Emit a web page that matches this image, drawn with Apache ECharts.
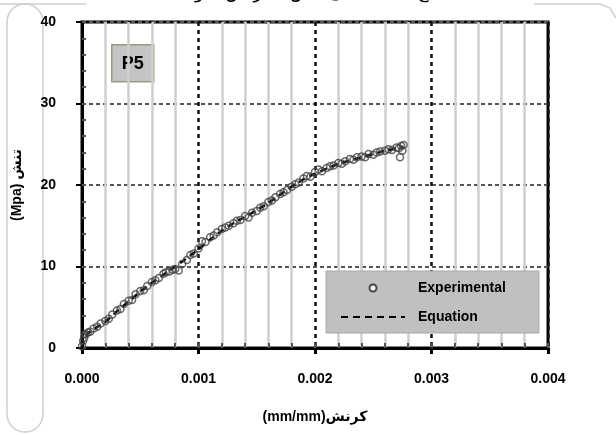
<!DOCTYPE html>
<html>
<head>
<meta charset="utf-8">
<script src="https://cdn.jsdelivr.net/npm/echarts@6/dist/echarts.min.js"></script>
<style>
  html, body { margin: 0; padding: 0; background: #fff; }
  #chart { width: 616px; height: 435px; }
</style>
</head>
<body>
<div id="chart"></div>
<script>
// experimental strain / stress readings
const expStrain = [0, 0.00001, 0.00002, 0.00003, 0.00005, 0.00007, 0.0001, 0.00013, 0.00016, 0.0002,
  0.00023, 0.00026, 0.0003, 0.00033, 0.00036, 0.0004, 0.00043, 0.00046, 0.0005, 0.00053,
  0.00056, 0.0006, 0.00063, 0.00066, 0.0007, 0.00072, 0.00075, 0.00078, 0.0008, 0.00083,
  0.00086, 0.0009, 0.00093, 0.00096, 0.001, 0.00103, 0.00106, 0.0011, 0.00113, 0.00116,
  0.0012, 0.00123, 0.00126, 0.0013, 0.00133, 0.00136, 0.0014, 0.00143, 0.00146, 0.0015,
  0.00153, 0.00156, 0.0016, 0.00163, 0.00166, 0.0017, 0.00173, 0.00176, 0.0018, 0.00183,
  0.00186, 0.0019, 0.00193, 0.00196, 0.002, 0.00203, 0.00206, 0.0021, 0.00213, 0.00216,
  0.0022, 0.00223, 0.00226, 0.0023, 0.00233, 0.00236, 0.0024, 0.00243, 0.00246, 0.0025,
  0.00253, 0.00256, 0.0026, 0.00263, 0.00266, 0.0027, 0.00272, 0.00274, 0.00276, 0.00273, 0.00275]
const expStress = [0.2, 0.9, 1.3, 1.7, 1.9, 2.0, 2.4, 2.6, 3.0, 3.3,
  3.6, 4.1, 4.6, 4.8, 5.4, 5.8, 5.9, 6.6, 7.0, 7.1,
  7.6, 8.1, 8.3, 8.6, 9.1, 9.3, 9.4, 9.6, 9.7, 9.5,
  10.3, 10.8, 11.4, 11.6, 12.2, 13.1, 13.0, 13.6, 13.8, 14.2,
  14.6, 14.8, 15.0, 15.3, 15.6, 15.7, 16.2, 16.0, 16.6, 16.8,
  17.2, 17.4, 17.9, 18.1, 18.5, 18.9, 19.1, 19.4, 19.8, 20.1,
  20.3, 20.8, 21.1, 21.0, 21.6, 21.9, 21.7, 22.1, 22.3, 22.4,
  22.7, 22.6, 22.9, 23.2, 23.1, 23.4, 23.5, 23.4, 23.8, 23.7,
  24.0, 24.1, 24.2, 24.4, 24.3, 24.6, 24.5, 24.8, 24.9, 23.4, 24.2]

// equation curve
const eqStrain = [0, 0.00002, 0.00005, 0.0001, 0.0002, 0.0003, 0.0004, 0.0005, 0.0006, 0.0007,
  0.0008, 0.0009, 0.001, 0.0011, 0.0012, 0.0013, 0.0014, 0.0015, 0.0016, 0.0017,
  0.0018, 0.0019, 0.002, 0.0021, 0.0022, 0.0023, 0.0024, 0.0025, 0.0026, 0.0027, 0.00276]
const eqStress = [0, 1.0, 1.8, 2.3, 3.2, 4.5, 5.7, 6.9, 8.0, 9.0,
  10.0, 11.0, 12.1, 13.3, 14.4, 15.3, 16.1, 16.9, 17.8, 18.8,
  19.8, 20.7, 21.4, 22.0, 22.6, 23.0, 23.4, 23.8, 24.2, 24.5, 24.7]

const font = '"Liberation Sans Narrow", "Liberation Sans", Arial, "DejaVu Sans", sans-serif'

let chart = echarts.init(document.getElementById("chart"))

chart.setOption({
  backgroundColor: "#fff",
  animation: false,
  title: {
    text: "منحنی تنش - کرنش نمونه P5 (ج)",
    left: "center",
    top: -21,
    textStyle: { fontFamily: '"DejaVu Sans", sans-serif', fontSize: 18, fontWeight: "normal", color: "#000" }
  },
  grid: {
    left: 82,
    right: 68,
    top: 22,
    bottom: 87,
    show: true,
    backgroundColor: "#fff",
    borderColor: "#000",
    borderWidth: 3
  },
  legend: {
    orient: "vertical",
    left: 326,
    top: 271,
    itemWidth: 64,
    itemHeight: 7,
    itemGap: 15,
    padding: [10, 33, 9, 14],
    backgroundColor: "#c0c0c0",
    borderColor: "#a8a8a8",
    borderWidth: 1,
    textStyle: { fontFamily: font, fontWeight: "bold", fontSize: 14, color: "#000", padding: [0, 0, 0, 8] },
    data: [
      { name: "Experimental", icon: "emptyCircle", itemStyle: { color: "#222", borderColor: "#222", borderWidth: 1.5 } },
      { name: "Equation", itemStyle: { opacity: 0 } }
    ]
  },
  xAxis: [
    {
      type: "value",
      min: 0,
      max: 0.004,
      interval: 0.001,
      name: "(mm/mm)کرنش",
      nameLocation: "middle",
      nameGap: 62,
      nameTextStyle: { fontFamily: font, fontWeight: "bold", fontSize: 14, color: "#000" },
      axisLine: { lineStyle: { color: "#000", width: 3 } },
      axisTick: { show: true, length: 6, lineStyle: { color: "#000", width: 3 } },
      axisLabel: {
        margin: 24,
        fontFamily: font, fontWeight: "bold", fontSize: 14, color: "#000",
        formatter: (v) => v.toFixed(3)
      },
      splitLine: { show: true, lineStyle: { color: "#111", type: [4, 4], width: 2.5 } },
      minorTick: { show: false, splitNumber: 5 },
      minorSplitLine: { show: true, lineStyle: { color: "#cfcfcf", width: 2.5 } }
    },
    {
      type: "value",
      min: 0,
      max: 0.004,
      interval: 0.0002,
      position: "bottom",
      axisLine: { show: false },
      axisLabel: { show: false },
      axisTick: { show: true, inside: true, length: 5, lineStyle: { color: "#555", width: 2 } },
      splitLine: { show: false }
    }
  ],
  yAxis: [
    {
      type: "value",
      min: 0,
      max: 40,
      interval: 10,
      name: "(Mpa) تنش",
      nameLocation: "middle",
      nameGap: 58,
      nameTextStyle: { fontFamily: font, fontWeight: "bold", fontSize: 14, color: "#000" },
      axisLine: { show: true, lineStyle: { color: "#000", width: 3 } },
      axisTick: { show: true, length: 6, lineStyle: { color: "#000", width: 2 } },
      axisLabel: { margin: 26, fontFamily: font, fontWeight: "bold", fontSize: 14, color: "#000" },
      splitLine: { show: true, lineStyle: { color: "#555", type: [4, 3], width: 2 } }
    },
    {
      type: "value",
      min: 0,
      max: 40,
      interval: 2,
      position: "left",
      axisLine: { show: false },
      axisLabel: { show: false },
      axisTick: { show: true, inside: true, length: 4, lineStyle: { color: "#555", width: 2 } },
      splitLine: { show: false }
    }
  ],
  graphic: [
    { type: "rect", shape: { x: 7, y: 4, width: 36, height: 428, r: 18 }, style: { fill: "none", stroke: "#cfcfcf", lineWidth: 1.5 }, z: -1 },
    { type: "line", shape: { x1: 0, y1: 4, x2: 86, y2: 4 }, style: { stroke: "#cfcfcf", lineWidth: 1.5 }, z: -1 },
    { type: "polyline", shape: { points: [[534, 4], [600, 4], [610, 8], [616, 18]] }, style: { stroke: "#cfcfcf", lineWidth: 1.5, fill: "none" }, z: -1 },
    {
      type: "group",
      left: 111,
      top: 44,
      z: 10,
      children: [
        { type: "rect", shape: { x: 0, y: 0, width: 42, height: 37 }, style: { fill: "#c4c4c4", stroke: "#9a9a80", lineWidth: 1.5 } },
        { type: "text", x: 21, y: 19, style: { text: "P5", fill: "#000", font: 'bold 18px "Liberation Sans", Arial, sans-serif', align: "center", verticalAlign: "middle" } }
      ]
    }
  ],
  series: [
    {
      name: "Equation",
      type: "line",
      showSymbol: false,
      symbol: "none",
      data: eqStrain.map((x, i) => [x, eqStress[i]]),
      lineStyle: { color: "#000", width: 2.5, type: [7, 5] },
      itemStyle: { color: "#000" },
      z: 3
    },
    {
      name: "Experimental",
      type: "scatter",
      symbol: "circle",
      symbolSize: 7,
      data: expStrain.map((x, i) => [x, expStress[i]]),
      itemStyle: { color: "transparent", borderColor: "#444", borderWidth: 1.5 },
      z: 4
    }
  ]
})
</script>
</body>
</html>
